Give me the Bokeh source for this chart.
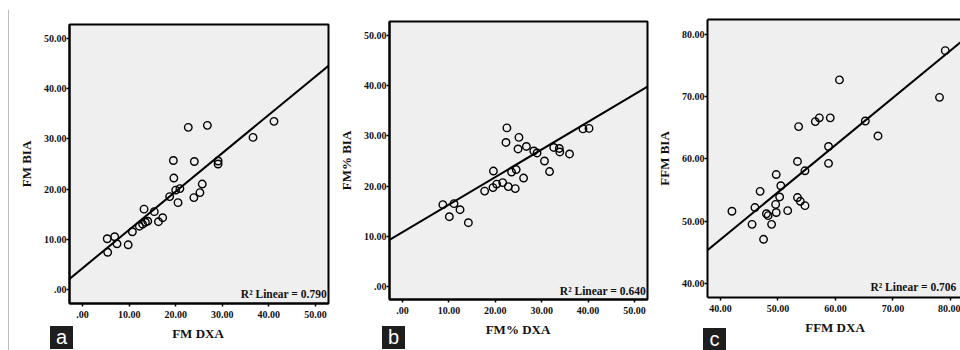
import numpy as np
from bokeh.plotting import figure
from bokeh.layouts import row, column
from bokeh.models import Range1d, FixedTicker, Label, Span, Spacer, Div, LinearAxis
from bokeh.embed import file_html
from bokeh.resources import INLINE

# ---------------- data ----------------
# Panel a: FM DXA vs FM BIA
a_x = [5.3, 6.9, 7.4, 5.4, 9.8, 10.7, 12.2, 12.9, 13.5, 14.0, 13.2, 15.4, 16.3, 17.2,
       18.7, 19.6, 20.0, 20.9, 20.5, 23.9, 25.2, 25.7, 19.5, 24.0, 29.1, 29.1,
       22.7, 26.8, 36.6, 41.1]
a_y = [10.1, 10.5, 9.1, 7.4, 8.9, 11.5, 12.6, 13.0, 13.4, 13.6, 16.0, 15.5, 13.5, 14.3,
       18.5, 22.2, 19.8, 20.1, 17.3, 18.3, 19.3, 21.0, 25.7, 25.5, 25.6, 25.0,
       32.3, 32.7, 30.3, 33.5]
a_fit = [4.24, 0.764]          # intercept, slope of the fitted line
a_r2 = "0.790"

# Panel b: FM% DXA vs FM% BIA
b_x = [8.7, 11.1, 10.1, 12.4, 14.2, 17.7, 19.5, 20.3, 21.6, 22.8, 24.3, 19.6, 23.5, 24.5,
       26.1, 22.5, 22.3, 25.1, 24.9, 26.7, 28.3, 29.0, 30.6, 31.7, 32.6, 33.8, 33.9,
       36.0, 38.9, 40.2]
b_y = [16.3, 16.5, 13.9, 15.3, 12.7, 19.0, 19.7, 20.4, 20.7, 19.9, 19.5, 23.0, 22.8, 23.3,
       21.6, 31.6, 28.7, 29.7, 27.4, 27.9, 27.0, 26.6, 25.0, 22.9, 27.7, 27.5, 26.8,
       26.4, 31.4, 31.5]
b_fit = [10.8, 0.55]
b_r2 = "0.640"

# Panel c: FFM DXA vs FFM BIA
c_x = [42.0, 45.5, 46.0, 46.9, 47.5, 48.0, 48.3, 48.9, 49.7, 49.6, 50.3, 50.5, 49.7, 51.7,
       53.4, 53.9, 54.7, 53.4, 54.7, 58.8, 58.8, 53.6, 56.5, 57.2, 59.1, 60.7, 65.2,
       67.4, 78.1, 79.1]
c_y = [51.6, 49.5, 52.2, 54.8, 47.1, 51.2, 50.9, 49.5, 51.4, 52.7, 53.9, 55.7, 57.5, 51.7,
       53.8, 53.2, 52.5, 59.6, 58.1, 59.3, 62.0, 65.2, 66.0, 66.6, 66.6, 72.7, 66.1,
       63.7, 69.9, 77.4]
c_fit = [16.7, 0.759]
c_r2 = "0.706"

ticks_ab = [0, 10, 20, 30, 40, 50]
tick_labels_ab = [".00", "10.00", "20.00", "30.00", "40.00", "50.00"]
ticks_c = [40, 50, 60, 70, 80]
tick_labels_c = ["40.00", "50.00", "60.00", "70.00", "80.00"]

SERIF = "Liberation Serif"
ROW_H = 341
FRAME_GRAY = "#7a7a7a"


def make_main(xs, ys, fit, r2, ylabel, xr, yr, xticks, xtl, yticks, ytl,
              width, height, bl, br, bt, bb, r2_y, open_right=False):
    p = figure(width=width, height=height, x_range=Range1d(*xr), y_range=Range1d(*yr),
               output_backend="svg", toolbar_location=None,
               min_border_left=bl, min_border_right=br,
               min_border_top=bt, min_border_bottom=bb)
    p.background_fill_color = "#efefef"
    p.border_fill_color = "white"
    p.grid.visible = False
    xax = p.below[0]
    yax = p.left[0]
    for ax in (xax, yax):
        ax.axis_line_color = "black"
        ax.axis_line_width = 2
        ax.major_tick_out = 3
        ax.major_tick_in = 0
        ax.major_tick_line_width = 1.5
        ax.minor_tick_line_color = None
        ax.major_label_text_font = SERIF
        ax.major_label_text_font_size = "10px"
        ax.major_label_text_font_style = "bold"
        ax.major_label_text_color = "#111111"
        ax.axis_label_text_font = SERIF
        ax.axis_label_text_font_size = "13px"
        ax.axis_label_text_font_style = "bold"
        ax.axis_label_text_color = "#111111"
    xax.ticker = FixedTicker(ticks=xticks)
    xax.major_label_overrides = dict(zip(xticks, xtl))
    yax.ticker = FixedTicker(ticks=yticks)
    yax.major_label_overrides = dict(zip(yticks, ytl))
    yax.axis_label = ylabel
    xax.major_label_standoff = 4
    yax.major_label_standoff = 0
    yax.axis_label_standoff = 7

    if open_right:
        # the frame runs past the page edge: draw only its top/left/bottom edges
        p.outline_line_color = None
        top_ax = LinearAxis(ticker=FixedTicker(ticks=[]), major_label_text_font_size="0px",
                            axis_line_color="black", axis_line_width=2,
                            major_tick_line_color=None, minor_tick_line_color=None,
                            major_tick_out=0, major_label_standoff=0)
        p.add_layout(top_ax, "above")
    else:
        p.outline_line_color = "black"
        p.outline_line_width = 2

    lx = [xr[0], xr[1]]
    ly = [fit[0] + fit[1] * v for v in lx]
    p.line(lx, ly, line_color="black", line_width=2)
    p.scatter(xs, ys, size=7.5, fill_color=None, line_color="black", line_width=1.4)

    p.add_layout(Label(x=xr[1] - (0.7 if open_right else 0.35), y=r2_y,
                       text="R\u00b2 Linear = " + r2,
                       text_font=SERIF, text_font_size="11.5px", text_font_style="bold",
                       text_color="#111111", text_align="right", text_baseline="alphabetic"))
    return p


def make_strip(width, height, letter, box, label, label_c):
    bx, by, bw, bh = box
    cx, cy = label_c
    html = (
        f'<div style="position:relative;width:{width}px;height:{height}px;overflow:hidden;'
        f'background:white;">'
        f'<div style="position:absolute;left:{bx}px;top:{by}px;width:{bw}px;height:{bh}px;'
        f'background:#1e1e1e;color:white;font-family:\'Liberation Sans\',sans-serif;'
        f'font-size:20px;line-height:{bh}px;text-align:center;">{letter}</div>'
        f'<div style="position:absolute;left:{cx - 70}px;width:140px;top:{cy - 9}px;height:18px;'
        f'line-height:18px;text-align:center;font-family:\'Liberation Serif\',serif;'
        f'font-weight:bold;font-size:13px;color:#111111;white-space:nowrap;">{label}</div>'
        f'</div>'
    )
    return Div(text=html, width=width, height=height, margin=0)


# panel a
pa = make_main(a_x, a_y, a_fit, a_r2, "FM BIA", (-2.8, 52.8), (-2.8, 52.8),
               ticks_ab, tick_labels_ab, ticks_ab, tick_labels_ab,
               321, 314, 60, 2, 15, 20, -0.9)
sa = make_strip(321, ROW_H - 314, "a", (41, 3, 23, 23), "FM DXA", (189, 11))
# panel b
pb = make_main(b_x, b_y, b_fit, b_r2, "FM% BIA", (-2.8, 52.8), (-2.6, 52.8),
               ticks_ab, tick_labels_ab, ticks_ab, tick_labels_ab,
               320, 311, 59, 3, 12, 21, -0.9)
sb = make_strip(320, ROW_H - 311, "b", (52, 6, 23, 23), "FM% DXA", (188, 10))
# panel c
pc = make_main(c_x, c_y, c_fit, c_r2, "FFM BIA", (37.75, 81.75), (37.75, 82.4),
               ticks_c, tick_labels_c, ticks_c, tick_labels_c,
               310, 308, 57, 0, 10, 20, 39.45, open_right=True)
sc = make_strip(310, ROW_H - 308, "c", (53, 11, 23, 22), "FFM DXA", (185, 11))

# thin grey frame lines (top and left) of the figure plate
top = figure(width=952, height=9, x_range=Range1d(0, 952), y_range=Range1d(0, 9),
             output_backend="svg", toolbar_location=None, min_border=0,
             x_axis_type=None, y_axis_type=None)
top.outline_line_color = None
top.add_layout(Span(location=0.5, dimension="width", line_color=FRAME_GRAY, line_width=1))
left = figure(width=9, height=ROW_H, x_range=Range1d(0, 9), y_range=Range1d(0, ROW_H),
              output_backend="svg", toolbar_location=None, min_border=0,
              x_axis_type=None, y_axis_type=None)
left.outline_line_color = None
left.add_layout(Span(location=8.5, dimension="height", line_color=FRAME_GRAY, line_width=1))

layout = column(
    row(Spacer(width=8, height=9), top),
    row(left, column(pa, sa), column(pb, sb), column(pc, sc)),
)

open("out.html", "w").write(file_html(layout, INLINE))
